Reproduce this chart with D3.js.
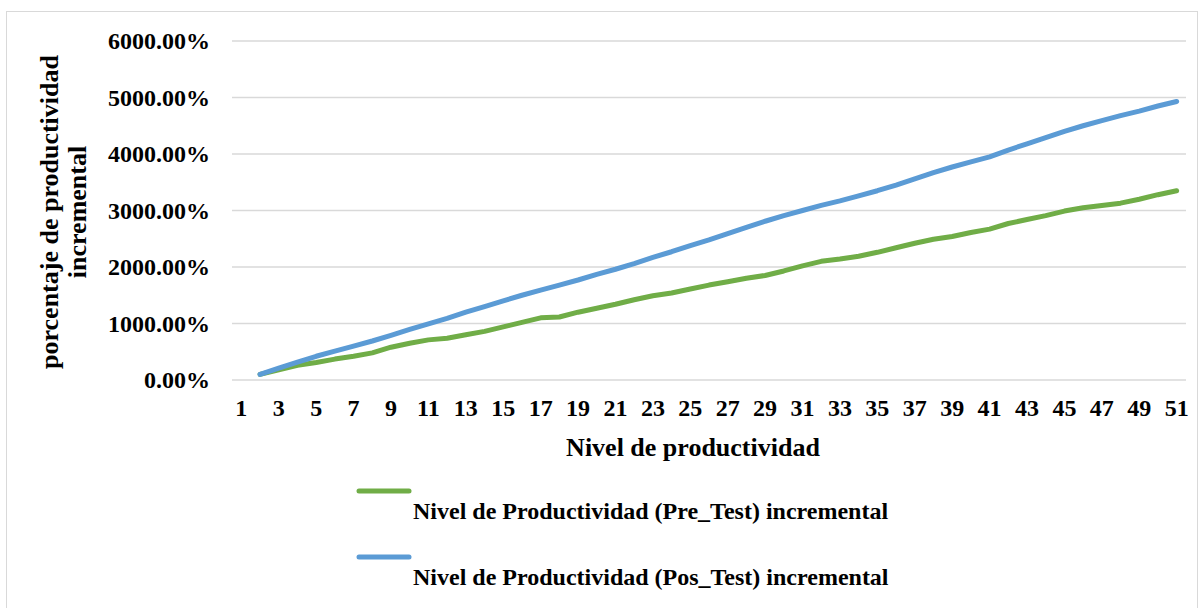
<!DOCTYPE html>
<html>
<head>
<meta charset="utf-8">
<script src="https://cdn.jsdelivr.net/npm/d3@7"></script>
<style>
  html, body { margin: 0; padding: 0; background: #fff; }
  svg { display: block; }
  text { font-family: "Liberation Serif", "Times New Roman", serif; font-weight: bold; fill: #000; }
</style>
</head>
<body>
<div id="chart"></div>
<script>
// categories on the x axis (nivel 1..51)
const levels = [1, 2, 3, 4, 5, 6, 7, 8, 9, 10, 11, 12, 13, 14, 15, 16, 17, 18, 19, 20,
  21, 22, 23, 24, 25, 26, 27, 28, 29, 30, 31, 32, 33, 34, 35, 36, 37, 38, 39, 40,
  41, 42, 43, 44, 45, 46, 47, 48, 49, 50, 51];

// percentages (level 1 has no value)
const preTest = [null, 100, 180, 260, 310, 370, 420, 480, 580, 650, 710, 740, 800, 860, 940,
  1020, 1100, 1115, 1200, 1270, 1340, 1420, 1490, 1540, 1610, 1680, 1740, 1800, 1850, 1930,
  2020, 2100, 2140, 2190, 2260, 2340, 2420, 2490, 2540, 2610, 2670, 2770, 2840, 2910, 2990,
  3050, 3090, 3130, 3200, 3280, 3350];

const posTest = [null, 100, 210, 315, 420, 510, 600, 690, 790, 895, 995, 1090, 1200, 1300, 1400,
  1500, 1590, 1680, 1770, 1870, 1960, 2060, 2170, 2270, 2380, 2480, 2590, 2700, 2810, 2910,
  3000, 3090, 3170, 3260, 3350, 3450, 3560, 3670, 3770, 3860, 3950, 4070, 4180, 4290, 4400,
  4500, 4590, 4680, 4760, 4850, 4930];

const yTicks = [0, 1000, 2000, 3000, 4000, 5000, 6000];
const seriesNames = [
  "Nivel de Productividad (Pre_Test) incremental",
  "Nivel de Productividad (Pos_Test) incremental"
];
const seriesColors = ["#70AD47", "#5B9BD5"];

const width = 1201, height = 608;
const plot = { left: 232, right: 1186, top: 41, bottom: 380 };

const svg = d3.select("#chart").append("svg")
  .attr("width", width)
  .attr("height", height);

// outer chart border
svg.append("rect")
  .attr("x", 6.5)
  .attr("y", 11.5)
  .attr("width", 1191)
  .attr("height", 640)
  .attr("fill", "none")
  .attr("stroke", "#d9d9d9")
  .attr("stroke-width", 1);

const x = d3.scaleBand()
  .domain(levels)
  .range([plot.left, plot.right]);

const y = d3.scaleLinear()
  .domain([0, 6000])
  .range([plot.bottom, plot.top]);

// gridlines
svg.append("g")
  .selectAll("line")
  .data(yTicks)
  .join("line")
  .attr("x1", plot.left)
  .attr("x2", plot.right)
  .attr("y1", d => y(d))
  .attr("y2", d => y(d))
  .attr("stroke", "#d9d9d9")
  .attr("stroke-width", 1.5);

// y axis labels
const yAxis = svg.append("g")
  .attr("transform", `translate(${plot.left},0)`)
  .call(d3.axisLeft(y).tickValues(yTicks).tickSize(0).tickPadding(22)
    .tickFormat(d => d.toFixed(2) + "%"));
yAxis.select(".domain").remove();
yAxis.selectAll("text")
  .style("font-family", "'Liberation Serif', serif")
  .style("font-weight", "bold")
  .style("font-size", "24px")
  .attr("fill", "#000");

// x axis labels (every other level)
const xAxis = svg.append("g")
  .attr("transform", `translate(0,${plot.bottom})`)
  .call(d3.axisBottom(x).tickValues(levels.filter((d, i) => i % 2 === 0))
    .tickSize(0).tickPadding(19));
xAxis.select(".domain").remove();
xAxis.selectAll("text")
  .style("font-family", "'Liberation Serif', serif")
  .style("font-weight", "bold")
  .style("font-size", "24px")
  .attr("fill", "#000");

// axis titles
svg.append("text")
  .attr("x", 693)
  .attr("y", 456)
  .attr("text-anchor", "middle")
  .style("font-size", "26px")
  .text("Nivel de productividad");

const yTitle = svg.append("text")
  .attr("transform", "rotate(-90)")
  .attr("text-anchor", "middle")
  .style("font-size", "26px");
yTitle.append("tspan")
  .attr("x", -212)
  .attr("y", 58)
  .text("porcentaje de productividad");
yTitle.append("tspan")
  .attr("x", -212)
  .attr("y", 86)
  .text("incremental");

// lines
const line = d3.line()
  .defined(d => d.value != null)
  .x(d => x(d.level) + x.bandwidth() / 2)
  .y(d => y(d.value));

const series = [preTest, posTest].map((vals, i) => ({
  name: seriesNames[i],
  color: seriesColors[i],
  values: levels.map((lv, j) => ({ level: lv, value: vals[j] }))
}));

svg.append("g")
  .selectAll("path")
  .data(series)
  .join("path")
  .attr("fill", "none")
  .attr("stroke", d => d.color)
  .attr("stroke-width", 5)
  .attr("stroke-linecap", "round")
  .attr("stroke-linejoin", "round")
  .attr("d", d => line(d.values));

// legend
const legendRows = svg.append("g")
  .selectAll("g")
  .data(series)
  .join("g")
  .attr("transform", (_, i) => `translate(0,${i * 66})`);

legendRows.append("line")
  .attr("x1", 359)
  .attr("x2", 409)
  .attr("y1", 491)
  .attr("y2", 491)
  .attr("stroke", d => d.color)
  .attr("stroke-width", 5)
  .attr("stroke-linecap", "round");

legendRows.append("text")
  .attr("x", 413)
  .attr("y", 519)
  .style("font-size", "24px")
  .text(d => d.name);
</script>
</body>
</html>
